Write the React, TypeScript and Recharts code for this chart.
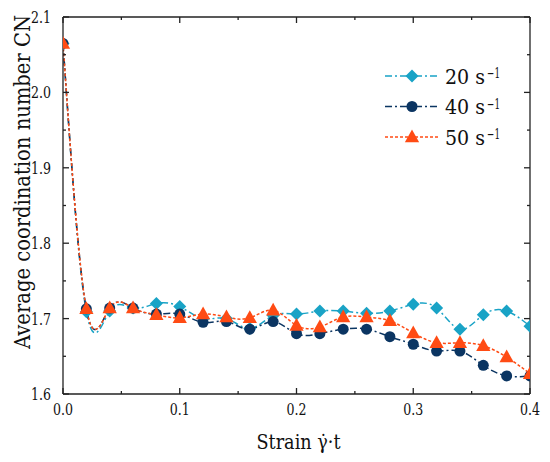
import React from "react";
import {
    LineChart,
    Line,
    XAxis,
    YAxis,
    Legend,
} from "recharts";

// strain steps (γ̇·t)
const strain = [0, 0.02, 0.04, 0.06, 0.08, 0.1, 0.12, 0.14, 0.16, 0.18, 0.2, 0.22, 0.24, 0.26, 0.28, 0.3, 0.32, 0.34, 0.36, 0.38, 0.4];

// average coordination number per shear rate
const cn20 = [2.065, 1.709, 1.710, 1.714, 1.720, 1.716, 1.700, 1.700, 1.687, 1.704, 1.706, 1.710, 1.710, 1.707, 1.710, 1.719, 1.714, 1.686, 1.705, 1.710, 1.690];
const cn40 = [2.065, 1.713, 1.714, 1.714, 1.706, 1.706, 1.695, 1.696, 1.686, 1.696, 1.680, 1.680, 1.686, 1.686, 1.676, 1.666, 1.657, 1.657, 1.638, 1.624, 1.624];
const cn50 = [2.065, 1.713, 1.714, 1.714, 1.705, 1.701, 1.706, 1.702, 1.701, 1.711, 1.691, 1.689, 1.702, 1.702, 1.697, 1.681, 1.668, 1.668, 1.664, 1.649, 1.627];

const xTicks = [0, 0.05, 0.1, 0.15, 0.2, 0.25, 0.3, 0.35, 0.4];
const yTicks = [1.6, 1.65, 1.7, 1.75, 1.8, 1.85, 1.9, 1.95, 2.0, 2.05, 2.1];

const rates = ["20", "40", "50"];

const data = strain.map((s, i) => ({
    strain: s,
    r20: cn20[i],
    r40: cn40[i],
    r50: cn50[i],
}));

// only DejaVu Serif gives a serif face here; squeeze it to Times-like widths
const FONT = "DejaVu Serif";
const AXIS = "#222";
const INK = "#111";
const CYAN = "#19a3c6";
const NAVY = "#0b3562";
const ORANGE = "#ff4b14";

const isMajor = (v: number) => Math.abs(v * 10 - Math.round(v * 10)) < 1e-6;

const BottomTick = (props: any) => {
    const { x, y, payload } = props;
    const major = isMajor(payload.value);
    return (
        <g>
            <line x1={x} x2={x} y1={y} y2={y - (major ? 6 : 3)} stroke={AXIS} strokeWidth={1.3} />
            {major && (
                <text x={x} y={y + 21} textAnchor="middle" fontFamily={FONT} fontSize={16} fill={INK}
                    textLength={20} lengthAdjust="spacingAndGlyphs">
                    {payload.value.toFixed(1)}
                </text>
            )}
        </g>
    );
};

const TopTick = (props: any) => {
    const { x, y, payload } = props;
    const major = isMajor(payload.value);
    return <line x1={x} x2={x} y1={y} y2={y + (major ? 6 : 3)} stroke={AXIS} strokeWidth={1.3} />;
};

const LeftTick = (props: any) => {
    const { x, y, payload } = props;
    const major = isMajor(payload.value);
    return (
        <g>
            <line x1={x} x2={x + (major ? 6 : 3)} y1={y} y2={y} stroke={AXIS} strokeWidth={1.3} />
            {major && (
                <text x={x - 12} y={y + 6} textAnchor="end" fontFamily={FONT} fontSize={16} fill={INK}
                    textLength={20} lengthAdjust="spacingAndGlyphs">
                    {payload.value.toFixed(1)}
                </text>
            )}
        </g>
    );
};

const RightTick = (props: any) => {
    const { x, y, payload } = props;
    const major = isMajor(payload.value);
    return <line x1={x} x2={x - (major ? 6 : 3)} y1={y} y2={y} stroke={AXIS} strokeWidth={1.3} />;
};

const XLabel = (props: any) => {
    const vb = props.viewBox;
    return (
        <text x={vb.x + vb.width / 2 + 2} y={vb.y + 55} textAnchor="middle" fontFamily={FONT} fontSize={21} fill={INK}
            textLength={84} lengthAdjust="spacingAndGlyphs">
            Strain γ̇·t
        </text>
    );
};

const YLabel = () => {
    const cx = 30;
    const cy = 182;
    return (
        <text x={cx} y={cy} transform={`rotate(-90, ${cx}, ${cy})`} textAnchor="middle"
            fontFamily={FONT} fontSize={22} fill={INK} textLength={334} lengthAdjust="spacingAndGlyphs">
            Average coordination number CN
        </text>
    );
};

const diamondPath = (cx: number, cy: number, r: number) =>
    `M${cx},${cy - r}L${cx + r},${cy}L${cx},${cy + r}L${cx - r},${cy}Z`;

const trianglePath = (cx: number, cy: number, r: number) =>
    `M${cx},${cy - r}L${cx + r * 0.95},${cy + r * 0.7}L${cx - r * 0.95},${cy + r * 0.7}Z`;

const renderDiamond = (p: any) => (
    <path key={`d-${p.index}`} d={diamondPath(p.cx, p.cy, 6.5)} fill={CYAN} />
);
const renderCircle = (p: any) => (
    <circle key={`c-${p.index}`} cx={p.cx} cy={p.cy} r={5.5} fill={NAVY} />
);
const renderTriangle = (p: any) => (
    <path key={`t-${p.index}`} d={trianglePath(p.cx, p.cy, 7.5)} fill={ORANGE} />
);

const legendItems = [
    { color: CYAN, dash: "7 3 2 3", marker: "diamond" },
    { color: NAVY, dash: "7 3 2 3", marker: "circle" },
    { color: ORANGE, dash: "3 2", marker: "triangle" },
];

const LegendContent = () => (
    <svg width={140} height={95}>
        {legendItems.map((it, i) => {
            const cy = 16 + i * 30.5;
            const mx = 32;
            return (
                <g key={i}>
                    <line x1={5} x2={58} y1={cy} y2={cy} stroke={it.color} strokeWidth={1.5} strokeDasharray={it.dash} />
                    {it.marker === "diamond" && <path d={diamondPath(mx, cy, 6.5)} fill={it.color} />}
                    {it.marker === "circle" && <circle cx={mx} cy={cy} r={5.5} fill={it.color} />}
                    {it.marker === "triangle" && <path d={trianglePath(mx, cy, 7.5)} fill={it.color} />}
                    <text x={65} y={cy + 7.5} fontFamily={FONT} fontSize={21} fill={INK}>
                        <tspan textLength={40} lengthAdjust="spacingAndGlyphs">{`${rates[i]} s`}</tspan>
                        <tspan x={107} y={cy + 2} fontSize={14} textLength={13} lengthAdjust="spacingAndGlyphs">−1</tspan>
                    </text>
                </g>
            );
        })}
    </svg>
);

export default function App() {
    return (
        <div style={{ position: "absolute", left: 0, top: 0, width: 550, height: 462, background: "#fff" }}>
            <LineChart
                width={550}
                height={462}
                data={data}
                margin={{ top: 0, right: 0, left: 0, bottom: 0 }}
            >
                <XAxis
                    dataKey="strain"
                    type="number"
                    domain={[0, 0.4]}
                    ticks={xTicks}
                    interval={0}
                    allowDataOverflow
                    height={68}
                    tickSize={0}
                    tickMargin={0}
                    tick={<BottomTick />}
                    axisLine={{ stroke: AXIS, strokeWidth: 1.3 }}
                    label={<XLabel />}
                />
                <XAxis
                    xAxisId="top"
                    orientation="top"
                    dataKey="strain"
                    type="number"
                    domain={[0, 0.4]}
                    ticks={xTicks}
                    interval={0}
                    allowDataOverflow
                    height={17}
                    tickSize={0}
                    tickMargin={0}
                    tick={<TopTick />}
                    axisLine={{ stroke: AXIS, strokeWidth: 1.3 }}
                />
                <YAxis
                    type="number"
                    domain={[1.6, 2.1]}
                    ticks={yTicks}
                    interval={0}
                    allowDataOverflow
                    width={63}
                    tickSize={0}
                    tickMargin={0}
                    tick={<LeftTick />}
                    axisLine={{ stroke: AXIS, strokeWidth: 1.3 }}
                    label={<YLabel />}
                />
                <YAxis
                    yAxisId="right"
                    orientation="right"
                    type="number"
                    domain={[1.6, 2.1]}
                    ticks={yTicks}
                    interval={0}
                    allowDataOverflow
                    width={20}
                    tickSize={0}
                    tickMargin={0}
                    tick={<RightTick />}
                    axisLine={{ stroke: AXIS, strokeWidth: 1.3 }}
                />
                <Legend
                    layout="horizontal"
                    verticalAlign="middle"
                    align="center"
                    content={<LegendContent />}
                    wrapperStyle={{ position: "absolute", left: 380, top: 60, width: 140, height: 95 }}
                />
                <Line
                    type="natural"
                    dataKey="r20"
                    stroke={CYAN}
                    strokeWidth={1.5}
                    strokeDasharray="7 3 2 3"
                    dot={renderDiamond}
                    activeDot={false}
                    isAnimationActive={false}
                />
                <Line
                    type="natural"
                    dataKey="r40"
                    stroke={NAVY}
                    strokeWidth={1.5}
                    strokeDasharray="7 3 2 3"
                    dot={renderCircle}
                    activeDot={false}
                    isAnimationActive={false}
                />
                <Line
                    type="natural"
                    dataKey="r50"
                    stroke={ORANGE}
                    strokeWidth={1.5}
                    strokeDasharray="3 2"
                    dot={renderTriangle}
                    activeDot={false}
                    isAnimationActive={false}
                />
            </LineChart>
        </div>
    );
}
